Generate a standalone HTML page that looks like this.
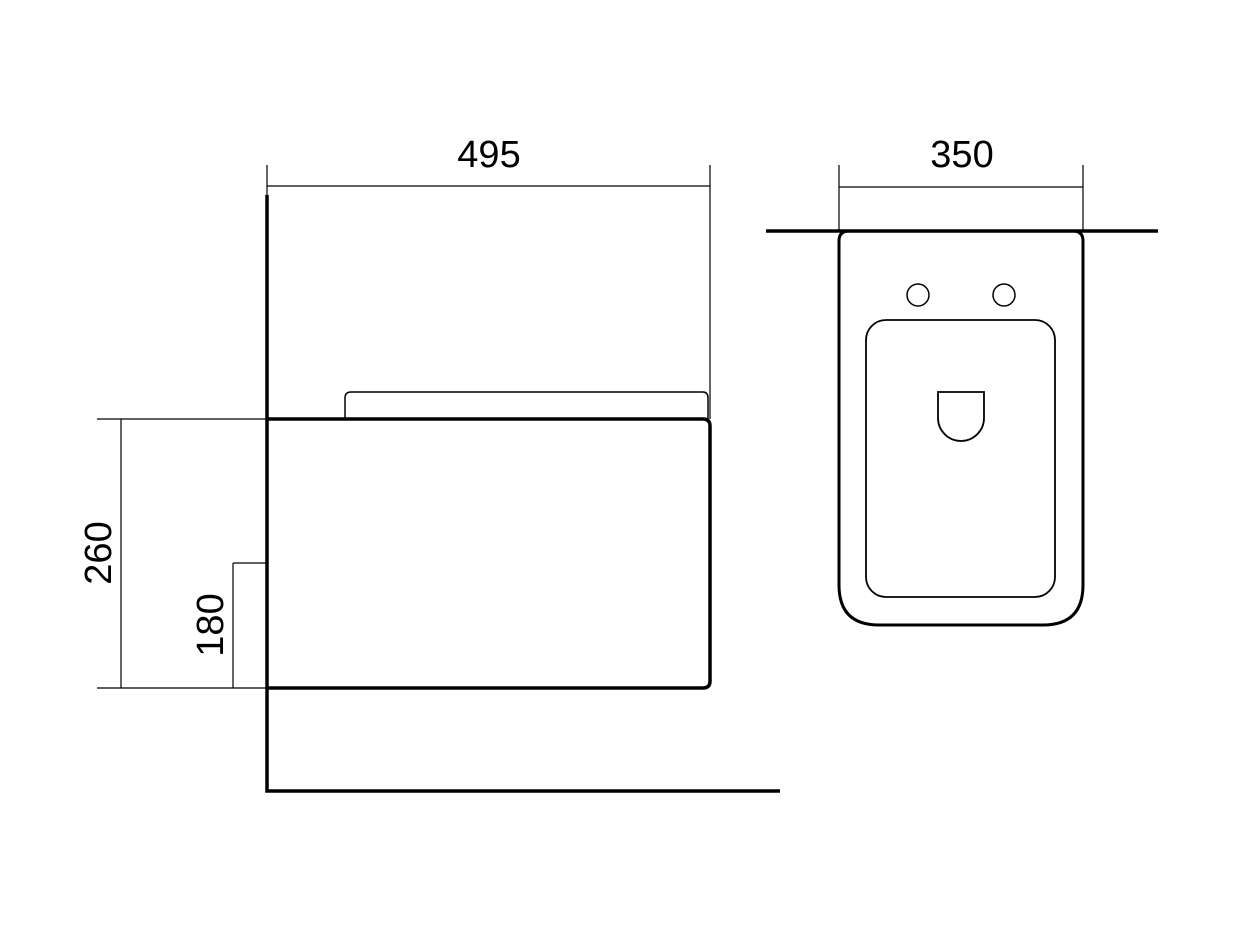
<!DOCTYPE html>
<html><head><meta charset="utf-8"><style>html,body{margin:0;padding:0;background:#fff}svg{display:block}</style></head>
<body>
<svg width="1248" height="936" viewBox="0 0 1248 936" xmlns="http://www.w3.org/2000/svg" font-family="Liberation Sans, sans-serif">
<g fill="none" stroke="#000" stroke-linecap="butt">
<path d="M267 195 V791 H780" stroke-width="3.5"/>
<path d="M267 419 H703 Q710 419 710 426 V681 Q710 688 703 688 H267" stroke-width="3.5"/>
<path d="M345 419 V398 Q345 392 351 392 H703 Q708 392 708 398 V419" stroke-width="1.5"/>
<path d="M267 165 V195 M710 165 V419 M267 186 H710" stroke-width="1.2"/>
<path d="M97 419 H267 M97 688 H267 M121 419 V688" stroke-width="1.2"/>
<path d="M233 563 H267 M233 563 V688" stroke-width="1.2"/>
<path d="M766 231 H1158" stroke-width="3.5"/>
<path d="M839 165 V231 M1083 165 V231 M839 187 H1083" stroke-width="1.2"/>
<path d="M849 231 Q839 231 839 241 V585 Q839 625 879 625 H1043 Q1083 625 1083 585 V241 Q1083 231 1073 231" stroke-width="3"/>
<circle cx="918" cy="295" r="11" stroke-width="1.5"/>
<circle cx="1004" cy="295" r="11" stroke-width="1.5"/>
<rect x="866" y="320" width="189" height="277" rx="20" stroke-width="1.8"/>
<path d="M938 392 H984 V418 A23 23 0 0 1 938 418 Z" stroke-width="1.8"/>
</g>
<g fill="#000" font-size="38" text-anchor="middle">
<text x="489" y="167">495</text>
<text x="962" y="167">350</text>
<text transform="translate(111 553) rotate(-90)">260</text>
<text transform="translate(223 625) rotate(-90)">180</text>
</g>
</svg>
</body></html>
